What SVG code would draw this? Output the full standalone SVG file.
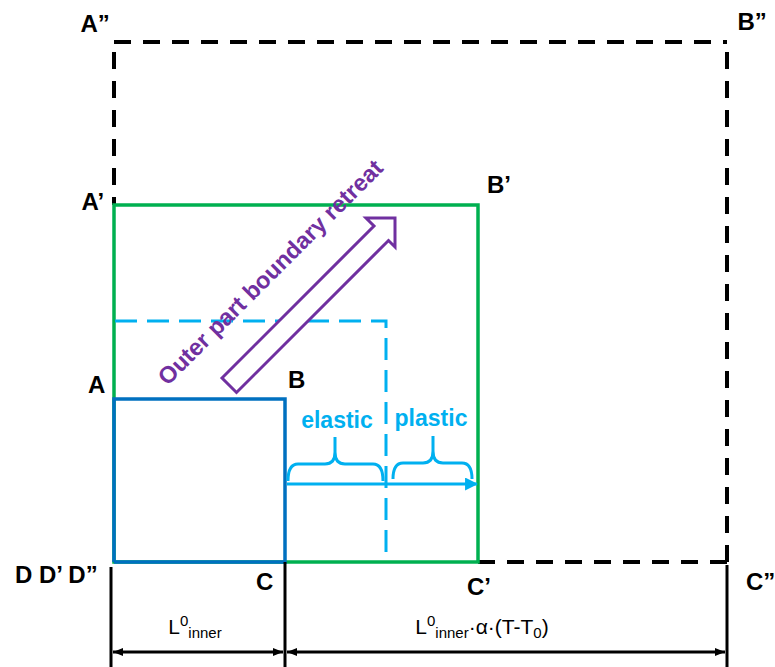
<svg xmlns="http://www.w3.org/2000/svg" width="775" height="667" viewBox="0 0 775 667">
<defs>
<style>
.lbl{font-family:"Liberation Sans",Arial,sans-serif;font-weight:bold;font-size:24px;fill:#000}
.blue-t{font-family:"Liberation Sans",Arial,sans-serif;font-weight:bold;font-size:23px;fill:#00B0F0}
.purple-t{font-family:"Liberation Sans",Arial,sans-serif;font-weight:bold;font-size:23.5px;fill:#7030A0}
.dim-t{font-family:"Liberation Sans",Arial,sans-serif;font-size:21px;fill:#000}
.blk-dash{fill:none;stroke:#000;stroke-width:4;stroke-dasharray:17 12}
.lb-dash{fill:none;stroke:#00B0F0;stroke-width:3;stroke-dasharray:22 10}
.dim{fill:none;stroke:#000;stroke-width:3}
</style>
<marker id="dimArrow" viewBox="0 0 10 8" refX="10" refY="4" markerWidth="11" markerHeight="8" markerUnits="userSpaceOnUse" orient="auto-start-reverse">
<path d="M0,0 L10,4 L0,8 Z" fill="#000"/>
</marker>
<marker id="blueArrow" viewBox="0 0 12 12" refX="11" refY="6" markerWidth="13" markerHeight="13" markerUnits="userSpaceOnUse" orient="auto">
<path d="M0,0 L12,6 L0,12 Z" fill="#00B0F0"/>
</marker>
</defs>
<rect width="775" height="667" fill="#fff"/>

<g id="outer-expanded-square">
<path class="blk-dash" d="M114,42 H727"/>
<path class="blk-dash" d="M114,52 V205"/>
<path class="blk-dash" d="M727,52 V562"/>
<path class="blk-dash" d="M727,562 H478"/>
</g>

<g id="outer-part-square">
<rect x="114" y="205" width="364" height="357" fill="none" stroke="#00B050" stroke-width="3.5"/>
</g>

<g id="elastic-limit-square">
<path class="lb-dash" d="M115,321 H386 V562"/>
</g>

<g id="inner-part-square">
<path d="M114,562 V399 H285 V562 H114" fill="none" stroke="#0070C0" stroke-width="3.5"/>
</g>

<g id="retreat-arrow">
<polygon points="222,378 374,226 366,218 395,218 395,247 388.5,240.5 236.5,392.5" fill="#fff" stroke="#7030A0" stroke-width="3" stroke-linejoin="miter"/>
<text class="purple-t" x="276" y="278" text-anchor="middle" transform="rotate(-45 276 278)">Outer part boundary retreat</text>
</g>

<g id="connectors">
<path d="M287,484 H477" fill="none" stroke="#00B0F0" stroke-width="3" marker-end="url(#blueArrow)"/>
<path d="M288,481 Q288,464 298,464 L325,464 Q335,464 335,452 L335,437 M335,452 Q335,464 345,464 L373,464 Q383,464 383,481" fill="none" stroke="#00B0F0" stroke-width="3"/>
<path d="M393,479 Q393,463 403,463 L423,463 Q433,463 433,451 L433,436 M433,451 Q433,463 443,463 L462,463 Q472,463 472,479" fill="none" stroke="#00B0F0" stroke-width="3"/>
<path class="dim" d="M111,567 V667"/>
<path class="dim" d="M285,562 V667"/>
<path class="dim" d="M727,565 V667"/>
<path class="dim" d="M113,652 H283" marker-start="url(#dimArrow)" marker-end="url(#dimArrow)"/>
<path class="dim" d="M287,652 H725" marker-start="url(#dimArrow)" marker-end="url(#dimArrow)"/>
</g>

<g id="labels">
<text class="lbl" x="80.5" y="32">A”</text>
<text class="lbl" x="737.5" y="30">B”</text>
<text class="lbl" x="81.5" y="210">A’</text>
<text class="lbl" x="487" y="193">B’</text>
<text class="lbl" x="88" y="393">A</text>
<text class="lbl" x="288" y="388">B</text>
<text class="lbl" x="15" y="583">D D’ D”</text>
<text class="lbl" x="256" y="590">C</text>
<text class="lbl" x="467" y="595">C’</text>
<text class="lbl" x="746" y="590">C”</text>
<text class="blue-t" x="337" y="428" text-anchor="middle">elastic</text>
<text class="blue-t" x="431" y="426" text-anchor="middle">plastic</text>
<text class="dim-t" x="195" y="634" text-anchor="middle">L<tspan font-size="15" dy="-8">0</tspan><tspan font-size="15" dy="12">inner</tspan></text>
<text class="dim-t" x="482" y="634" text-anchor="middle">L<tspan font-size="15" dy="-8">0</tspan><tspan font-size="15" dy="12">inner</tspan><tspan dy="-4">·α·(T-T</tspan><tspan font-size="15" dy="4">0</tspan><tspan dy="-4">)</tspan></text>
</g>
</svg>
